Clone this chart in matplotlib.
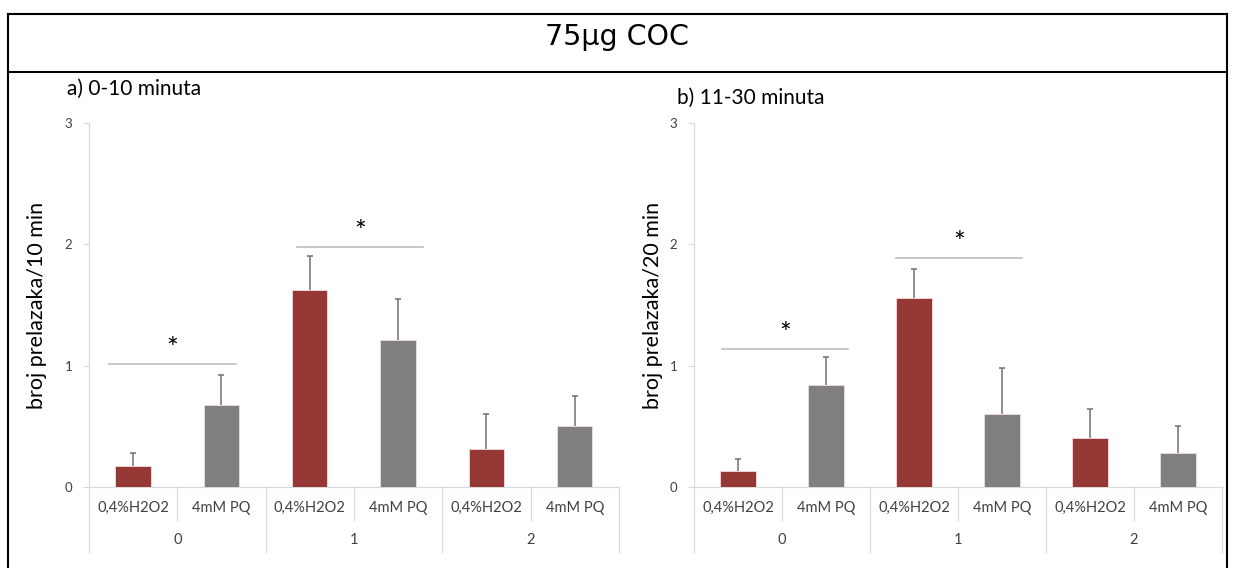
import numpy as np
import matplotlib.pyplot as plt
from matplotlib.lines import Line2D

plt.rcParams['font.family'] = ['Lato', 'DejaVu Sans']

# podaci
skupine = ['0', '1', '2']
tretmani = ['0,4%H2O2', '4mM PQ']
boje = ['#953735', '#7f7f7f']

# a) 0-10 minuta
vrijednosti_a = [0.17, 0.68, 1.62, 1.21, 0.31, 0.50]
greske_a = [0.11, 0.24, 0.28, 0.34, 0.29, 0.25]
# b) 11-30 minuta
vrijednosti_b = [0.13, 0.84, 1.56, 0.60, 0.40, 0.28]
greske_b = [0.10, 0.23, 0.24, 0.38, 0.24, 0.22]

# oznake znacajnosti (x pocetak, x kraj, y)
znacajnost_a = [(-0.27, 1.16, 1.01), (1.85, 3.28, 1.975)]
znacajnost_b = [(-0.18, 1.25, 1.135), (1.80, 3.23, 1.885)]


def nacrtaj(ax, vrijednosti, greske, znacajnost, ylabel, label_x):
    x = np.arange(len(vrijednosti))
    v = np.array(vrijednosti)
    e = np.array(greske)
    colors = [boje[i % 2] for i in range(len(vrijednosti))]
    ax.bar(x, v, width=0.4, color=colors, edgecolor='#f2dcdb',
           linewidth=0.6, zorder=2)
    # samo gornja greska
    ax.vlines(x, v, v + e, color='#707070', lw=1.1, zorder=3)
    ax.plot(x, v + e, ls='none', marker='_', ms=4, mew=1.1, color='#707070', zorder=3)

    ax.set_xlim(-0.5, len(vrijednosti) - 0.5)
    ax.set_ylim(0, 3)
    ax.set_yticks([0, 1, 2, 3])
    ax.tick_params(axis='y', length=4, width=0.8, color='#d9d9d9', pad=8,
                   labelsize=9.5, labelcolor='#404040')
    ax.set_xticks([])
    for s in ['top', 'right', 'bottom']:
        ax.spines[s].set_visible(False)
    ax.spines['left'].set_color('#d9d9d9')
    ax.spines['left'].set_linewidth(0.9)
    ax.set_ylabel(ylabel, fontsize=15.5, color='#000000')
    ax.yaxis.set_label_coords(label_x, 0.5)

    # tablica kategorija ispod osi
    tr = ax.transData
    ax.plot([-0.5, len(vrijednosti) - 0.5], [0, 0], color='#d9d9d9', lw=0.9,
            clip_on=False, zorder=1)
    for i in range(len(vrijednosti) + 1):
        kraj = -0.535 if i % 2 == 0 else -0.27
        ax.plot([i - 0.5, i - 0.5], [0, kraj], color='#d9d9d9', lw=0.9,
                clip_on=False)
    for i in range(len(vrijednosti)):
        ax.text(i, -0.172, tretmani[i % 2], ha='center', va='center',
                fontsize=10.5, color='#404040', transform=tr)
    for j, s in enumerate(skupine):
        ax.text(2 * j + 0.5, -0.435, s, ha='center', va='center',
                fontsize=10.5, color='#404040', transform=tr)

    for x0, x1, y in znacajnost:
        ax.plot([x0, x1], [y, y], color='#bfbfbf', lw=1.2, zorder=1)
        ax.text((x0 + x1) / 2, y + 0.01, '*', ha='center', va='bottom',
                fontsize=20, color='black')


fig = plt.figure(figsize=(12.34, 5.68), dpi=100)

ax1 = fig.add_axes([0.0721, 0.1426, 0.4295, 0.6408])
nacrtaj(ax1, vrijednosti_a, greske_a, znacajnost_a, 'broj prelazaka/10 min', -0.079)
ax2 = fig.add_axes([0.5624, 0.1426, 0.4279, 0.6408])
nacrtaj(ax2, vrijednosti_b, greske_b, znacajnost_b, 'broj prelazaka/20 min', -0.058)

# okvir i naslov
for (x0, x1, y0, y1) in [(0.0065, 0.9943, 0.9754, 0.9754),
                         (0.0065, 0.9943, 0.8732, 0.8732),
                         (0.0065, 0.0065, 0.0, 0.9754),
                         (0.9943, 0.9943, 0.0, 0.9754)]:
    fig.add_artist(Line2D([x0, x1], [y0, y1], color='black', lw=1.5,
                          transform=fig.transFigure))

fig.text(0.5, 0.935, '75μg COC', ha='center', va='center', fontsize=20.5,
         family='DejaVu Sans')
fig.text(0.054, 0.843, 'a) 0-10 minuta', ha='left', va='center', fontsize=15)
fig.text(0.5486, 0.827, 'b) 11-30 minuta', ha='left', va='center', fontsize=15)

fig.savefig('out.png', dpi=100)
